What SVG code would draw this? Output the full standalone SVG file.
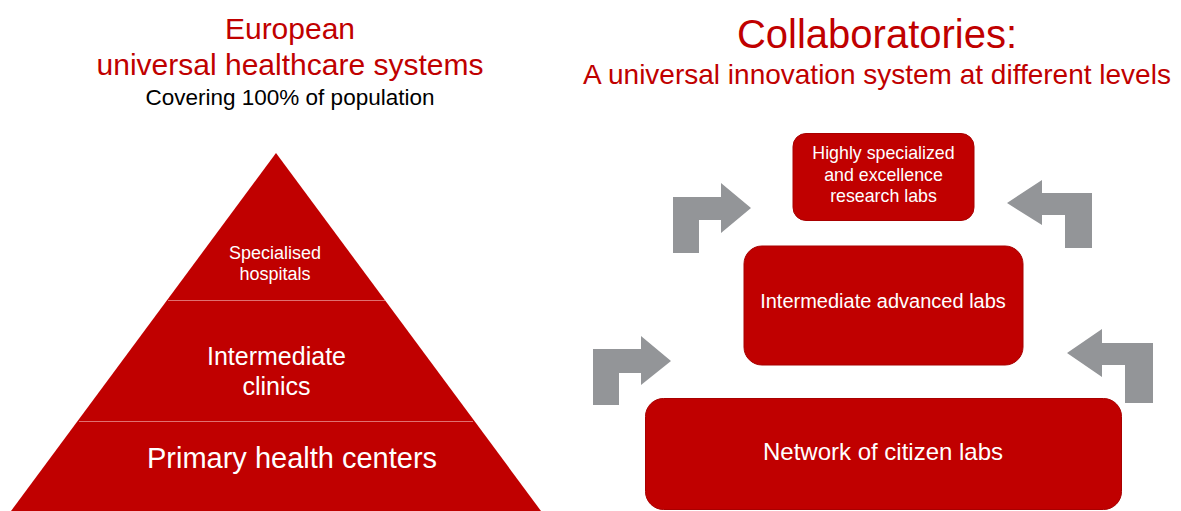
<svg xmlns="http://www.w3.org/2000/svg" width="1181" height="511" viewBox="0 0 1181 511">
<style>
.red{fill:#C00000}
.box{fill:#C00000;stroke:#A80000;stroke-width:1}
.arrow{fill:#939598}
.t{font-family:"Liberation Sans",Arial,sans-serif;text-anchor:middle}
.w{fill:#FFFFFF}
.title{fill:#C00000}
.div{stroke:#E07070;stroke-width:1}
</style>
<rect width="1181" height="511" fill="#FFFFFF"/>
<g id="left-title">
<text class="t title" x="290" y="39" font-size="30">European</text>
<text class="t title" x="290" y="75" font-size="30">universal healthcare systems</text>
<text class="t" x="290" y="105" font-size="22.5" fill="#000000">Covering 100% of population</text>
</g>
<g id="pyramid">
<polygon class="red" points="276,153 541,511 11,511"/>
<line class="div" x1="168" y1="300.5" x2="385" y2="300.5"/>
<line class="div" x1="79" y1="421.5" x2="473" y2="421.5"/>
</g>
<g id="specialised-hospitals">
<text class="t w" x="275" y="259" font-size="18">Specialised</text>
<text class="t w" x="275" y="280" font-size="18">hospitals</text>
</g>
<g id="intermediate-clinics">
<text class="t w" x="276.5" y="365" font-size="25">Intermediate</text>
<text class="t w" x="276.5" y="395" font-size="25">clinics</text>
</g>
<g id="primary-health-centers">
<text class="t w" x="292" y="468" font-size="29">Primary health centers</text>
</g>
<g id="right-title">
<text class="t title" x="877" y="48" font-size="40">Collaboratories:</text>
<text class="t title" x="877" y="84" font-size="28">A universal innovation system at different levels</text>
</g>
<g id="research-labs">
<rect class="box" x="793" y="133.5" width="181" height="87" rx="13"/>
<text class="t w" x="883.5" y="159" font-size="17.8">Highly specialized</text>
<text class="t w" x="883.5" y="180.5" font-size="17.8">and excellence</text>
<text class="t w" x="883.5" y="202" font-size="17.8">research labs</text>
</g>
<g id="advanced-labs">
<rect class="box" x="744" y="246" width="279" height="119" rx="18"/>
<text class="t w" x="883" y="308" font-size="20">Intermediate advanced labs</text>
</g>
<g id="citizen-labs">
<rect class="box" x="645.5" y="398.5" width="476" height="111" rx="18"/>
<text class="t w" x="883" y="460" font-size="24">Network of citizen labs</text>
</g>
<g id="connectors">
<polygon class="arrow" points="593,405 593,349 641,349 641,336 671,361 641,385 641,373 619,373 619,405"/>
<polygon class="arrow" points="673,253 673,197 721,197 721,183 751,208 721,233 721,220 699,220 699,253"/>
<polygon class="arrow" points="1007,203 1042,180 1042,193 1092,193 1092,248 1065,248 1065,215 1042,215 1042,225"/>
<polygon class="arrow" points="1067,353 1102,329 1102,343 1153,343 1153,403 1125,403 1125,365 1102,365 1102,377"/>
</g>
</svg>
